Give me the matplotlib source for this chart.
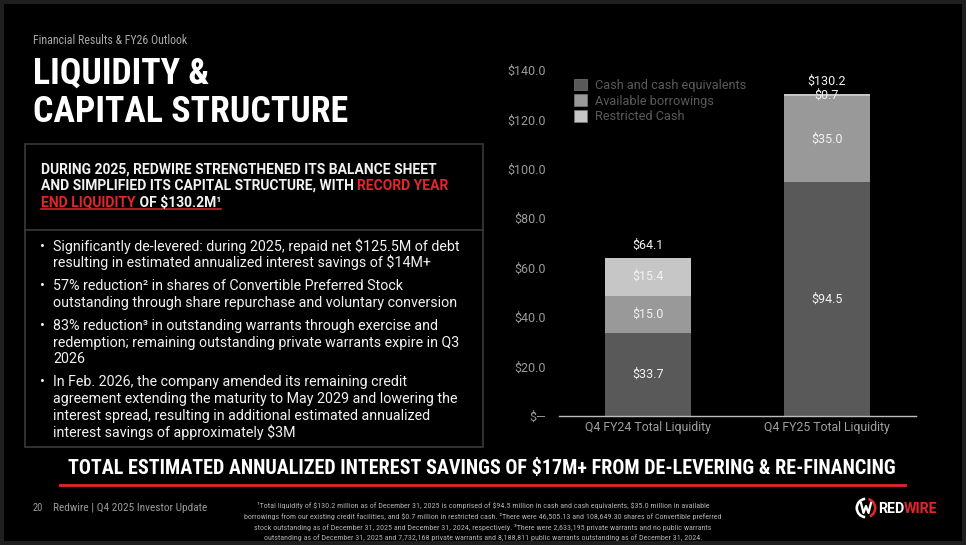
import matplotlib
matplotlib.use('Agg')
import matplotlib.pyplot as plt
from matplotlib import font_manager as fm
from matplotlib.patches import Rectangle, Patch, Wedge

# ---------------- data ----------------
categories = ['Q4 FY24 Total Liquidity', 'Q4 FY25 Total Liquidity']
series_names = ['Cash and cash equivalents', 'Available borrowings', 'Restricted Cash']
cash = [33.7, 94.5]
borrowings = [15.0, 35.0]
restricted = [15.4, 0.7]
totals = [64.1, 130.2]
y_ticks = [0, 20, 40, 60, 80, 100, 120, 140]
y_tick_labels = ['$\u2014', '$20.0', '$40.0', '$60.0', '$80.0', '$100.0', '$120.0', '$140.0']

subtitle = 'Financial Results & FY26 Outlook'
title_lines = ['LIQUIDITY &', 'CAPITAL STRUCTURE']
header_lines = [
    [('DURING 2025, REDWIRE STRENGTHENED ITS BALANCE SHEET', 'w')],
    [('AND SIMPLIFIED ITS CAPITAL STRUCTURE, WITH ', 'w'), ('RECORD YEAR', 'r')],
    [('END LIQUIDITY', 'r'), (' OF $130.2M\u00b9', 'w')],
]
bullets = [
    ['Significantly de-levered: during 2025, repaid net $125.5M of debt',
     'resulting in estimated annualized interest savings of $14M+'],
    ['57% reduction\u00b2 in shares of Convertible Preferred Stock',
     'outstanding through share repurchase and voluntary conversion'],
    ['83% reduction\u00b3 in outstanding warrants through exercise and',
     'redemption; remaining outstanding private warrants expire in Q3',
     '2026'],
    ['In Feb. 2026, the company amended its remaining credit',
     'agreement extending the maturity to May 2029 and lowering the',
     'interest spread, resulting in additional estimated annualized',
     'interest savings of approximately $3M'],
]
banner = 'TOTAL ESTIMATED ANNUALIZED INTEREST SAVINGS OF $17M+ FROM DE-LEVERING & RE-FINANCING'
footer_page = '20'
footer_text = 'Redwire | Q4 2025 Investor Update'
footnotes = [
    '\u00b9Total liquidity of $130.2 million as of December 31, 2025 is comprised of $94.5 million in cash and cash equivalents, $35.0 million in available',
    'borrowings from our existing credit facilities, and $0.7 million in restricted cash. \u00b2There were 46,505.13 and 108,649.30 shares of Convertible preferred',
    'stock outstanding as of December 31, 2025 and December 31, 2024, respectively. \u00b3There were 2,633,195 private warrants and no public warrants',
    'outstanding as of December 31, 2025 and 7,732,168 private warrants and 8,188,811 public warrants outstanding as of December 31, 2024.',
]

# ---------------- fonts ----------------
available = {f.name for f in fm.fontManager.ttflist}
def pick(*names):
    for n in names:
        if n in available:
            return n
    return 'DejaVu Sans'
COND = pick('Roboto Condensed', 'Liberation Sans Narrow', 'Roboto', 'DejaVu Sans')
BODY = pick('Roboto', 'Noto Sans', 'DejaVu Sans')
plt.rcParams['font.family'] = [BODY, 'DejaVu Sans']

RED = '#e3262b'
WHITE = '#f2f2f2'
C_CASH, C_BORR, C_REST = '#595959', '#999999', '#c6c6c6'

fig = plt.figure(figsize=(9.66, 5.45), dpi=100, facecolor='#1f1f1f')
ov = fig.add_axes([0, 0, 1, 1])
ov.set_xlim(0, 966)
ov.set_ylim(545, 0)
ov.axis('off')
ov.add_patch(Rectangle((4, 4), 958, 537, facecolor='black', edgecolor='none', zorder=0))

fig.canvas.draw()
R = fig.canvas.get_renderer()

def width_of(t):
    return t.get_window_extent(R).width

def fit(t, target):
    for _ in range(3):
        w = width_of(t)
        t.set_fontsize(t.get_fontsize() * target / w)
    return t.get_fontsize()

def measure(s, **kw):
    t = ov.text(0, 0, s + '|', **kw)
    t2 = ov.text(0, 0, '|', **kw)
    w = width_of(t) - width_of(t2)
    t.remove(); t2.remove()
    return w

# ---------------- title area ----------------
t = ov.text(33, 44, subtitle, color='#a8a8a8', fontsize=8, family=COND, va='baseline')
fit(t, 155)
t1 = ov.text(33, 83.5, title_lines[0], color='white', fontsize=26, family=COND, weight='bold', va='baseline')
t2 = ov.text(33, 122, title_lines[1], color='white', fontsize=26, family=COND, weight='bold', va='baseline')
fs = fit(t2, 315)
t1.set_fontsize(fs)

# ---------------- text box ----------------
ov.add_patch(Rectangle((25, 144), 458, 303, facecolor='none', edgecolor='#3a3a3a', lw=1.2, zorder=1))
ov.plot([25, 483], [230, 230], color='#3a3a3a', lw=1.2)

probe = ov.text(41, 173.3, header_lines[0][0][0], color='white', fontsize=10, weight='bold', va='baseline')
hfs = fit(probe, 397)
probe.remove()
hkw = dict(fontsize=hfs, weight='bold', va='baseline', family=BODY)
h_base = [173.3, 190.0, 206.7]
for line, yb in zip(header_lines, h_base):
    x = 41
    for seg, col in line:
        ov.text(x, yb, seg, color=WHITE if col == 'w' else RED, **hkw)
        x += measure(seg, **hkw)
    if line is header_lines[2]:
        ov.plot([41, x], [yb + 2.6, yb + 2.6], color=RED, lw=1.1)

probe = ov.text(53, 250, bullets[0][0], color=WHITE, fontsize=10, va='baseline')
bfs = fit(probe, 407)
probe.remove()
b_base = [[250.7, 267.3], [290.0, 306.7], [330.0, 346.7, 363.3], [386.0, 403.0, 419.7, 436.5]]
for lines, ys in zip(bullets, b_base):
    ov.text(40, ys[0], '\u2022', color=WHITE, fontsize=bfs, va='baseline')
    for s, yb in zip(lines, ys):
        ov.text(53, yb, s, color=WHITE, fontsize=bfs, va='baseline')

# ---------------- banner ----------------
bt = ov.text(482, 474, banner, color='white', fontsize=13, family=COND, weight='bold', ha='center', va='baseline')
fit(bt, 828)
ov.plot([60, 905], [484.5, 484.5], color=RED, lw=2)

# ---------------- footer ----------------
ov.text(33, 511, footer_page, color='#9a9a9a', fontsize=7.5, family=COND, va='baseline')
ft = ov.text(53, 511, footer_text, color='#9a9a9a', fontsize=7.5, family=COND, va='baseline')
fit(ft, 155)
probe = ov.text(483, 519, footnotes[1], color='#b0b0b0', fontsize=5, family=COND, ha='center', va='baseline')
nfs = fit(probe, 473)
probe.remove()
for s, yb in zip(footnotes, [508, 519, 530, 540]):
    ov.text(483, yb, s, color='#b0b0b0', fontsize=nfs, family=COND, ha='center', va='baseline')

# logo
ov.add_patch(Wedge((866, 508), 10.5, 95, 265, width=2.6, facecolor='white', edgecolor='none'))
ov.add_patch(Wedge((866, 508), 10.5, 285, 65, width=2.6, facecolor=RED, edgecolor='none'))
ov.plot([861, 863.5, 866, 868.5, 871], [503, 513, 506, 513, 503], color='white', lw=1.6)
lkw = dict(fontsize=10.5, weight='bold', va='baseline', family=BODY)
lt = ov.text(878, 513, 'REDWIRE', color='white', **lkw)
lfs = fit(lt, 60)
lt.remove()
lkw['fontsize'] = lfs
ov.text(878, 513, 'RED', color='white', **lkw)
ov.text(878 + measure('RED', **lkw), 513, 'WIRE', color=RED, **lkw)

# ---------------- chart ----------------
ax = fig.add_axes([559 / 966, 1 - 416 / 545, 357 / 966, 346 / 545])
ax.set_facecolor('none')
x = [0, 1]
bw = 0.48
bottoms2 = [c + b for c, b in zip(cash, borrowings)]
ax.bar(x, cash, bw, color=C_CASH, label=series_names[0], zorder=2)
ax.bar(x, borrowings, bw, bottom=cash, color=C_BORR, label=series_names[1], zorder=2)
ax.bar(x, restricted, bw, bottom=bottoms2, color=C_REST, label=series_names[2], zorder=2)
for i in x:
    for val, bot in [(cash[i], 0), (borrowings[i], cash[i]), (restricted[i], bottoms2[i])]:
        ax.text(i, bot + val / 2, f'${val:.1f}', ha='center', va='center', color=WHITE, fontsize=9, zorder=3)
    ax.annotate(f'${totals[i]:.1f}', xy=(i, totals[i]), xytext=(0, 12.5), textcoords='offset pixels',
                ha='center', va='center', color=WHITE, fontsize=9, zorder=3)

ax.set_xlim(-0.5, 1.5)
ax.set_ylim(0, 140)
ax.set_yticks(y_ticks, y_tick_labels)
ax.set_xticks(x, categories)
ax.tick_params(axis='y', length=0, pad=9.4, labelcolor='#9a9a9a', labelsize=9)
ax.tick_params(axis='x', length=0, pad=3.6, labelcolor='#a0a0a0', labelsize=8.8)
for s in ['top', 'right', 'left']:
    ax.spines[s].set_visible(False)
ax.spines['bottom'].set_color('#bdbdbd')
ax.spines['bottom'].set_linewidth(1)

handles = [Patch(facecolor=c, edgecolor='#7a7a7a', lw=0.5) for c in (C_CASH, C_BORR, C_REST)]
leg = fig.legend(handles, series_names, loc='upper left', bbox_to_anchor=(574 / 966, 1 - 78.5 / 545),
                 frameon=False, fontsize=9.2, handlelength=1.05, handleheight=1.05, handletextpad=0.6,
                 labelspacing=0.2, borderpad=0, borderaxespad=0)
for txt in leg.get_texts():
    txt.set_color('#5a5a5a')

fig.savefig('out.png', dpi=100, facecolor=fig.get_facecolor())
